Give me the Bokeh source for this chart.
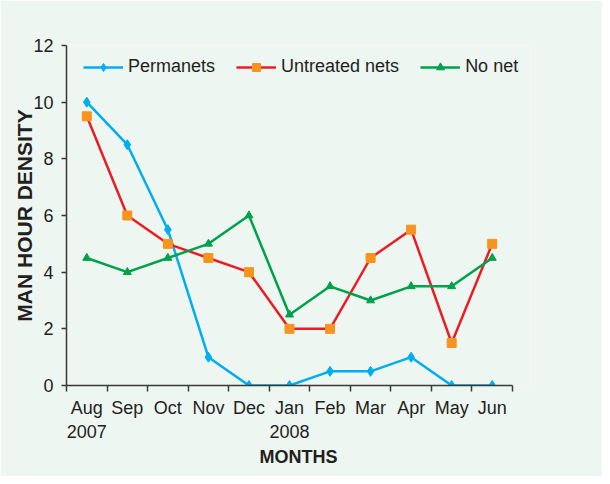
from bokeh.plotting import figure
from bokeh.models import Range1d, FixedTicker, Legend, LegendItem
from bokeh.embed import file_html
from bokeh.resources import INLINE

months = ["Aug\n2007", "Sep", "Oct", "Nov", "Dec", "Jan\n2008", "Feb", "Mar", "Apr", "May", "Jun"]
permanets = [10, 8.5, 5.5, 1, 0, 0, 0.5, 0.5, 1, 0, 0]
untreated = [9.5, 6, 5, 4.5, 4, 2, 2, 4.5, 5.5, 1.5, 5]
no_net = [4.5, 4, 4.5, 5, 6, 2.5, 3.5, 3, 3.5, 3.5, 4.5]
y_ticks = [0, 2, 4, 6, 8, 10, 12]

n = len(months)
xs = [i + 0.5 for i in range(n)]

BG = "#edf6f1"
TXT = "#231f20"
FONT = "Liberation Sans"

p = figure(width=602, height=476, output_backend="svg", toolbar_location=None,
           x_range=Range1d(0, n * 464 / 446), y_range=Range1d(0, 12),
           min_border_left=66, min_border_right=72, min_border_top=45, min_border_bottom=91,
           background_fill_color=BG, border_fill_color=BG)
p.outline_line_color = None
p.grid.visible = False

# x axis
xa = p.xaxis[0]
xa.bounds = (0, n)
xa.ticker = FixedTicker(ticks=xs, minor_ticks=list(range(n + 1)))
xa.major_label_overrides = {x: m for x, m in zip(xs, months)}
xa.major_tick_out = 0
xa.major_tick_in = 0
xa.minor_tick_out = 6
xa.minor_tick_in = 0
xa.minor_tick_line_color = "#3a3a3a"
xa.minor_tick_line_width = 1.5
xa.axis_line_color = "#3a3a3a"
xa.axis_line_width = 1.5
xa.major_label_text_font = FONT
xa.major_label_text_font_size = "18px"
xa.major_label_text_color = TXT
xa.major_label_standoff = 6
xa.axis_label = "MONTHS"
xa.axis_label_text_font = FONT
xa.axis_label_text_font_size = "18px"
xa.axis_label_text_font_style = "bold"
xa.axis_label_text_color = TXT
xa.axis_label_standoff = 2

# y axis
ya = p.yaxis[0]
ya.ticker = FixedTicker(ticks=y_ticks, minor_ticks=[])
ya.major_tick_out = 5
ya.major_tick_in = 0
ya.major_tick_line_color = "#3a3a3a"
ya.major_tick_line_width = 1.5
ya.axis_line_color = "#3a3a3a"
ya.axis_line_width = 1.5
ya.major_label_text_font = FONT
ya.major_label_text_font_size = "18px"
ya.major_label_text_color = TXT
ya.major_label_standoff = 8
ya.axis_label = "MAN HOUR DENSITY"
ya.axis_label_text_font = FONT
ya.axis_label_text_font_size = "21px"
ya.axis_label_text_font_style = "bold"
ya.axis_label_text_color = TXT
ya.axis_label_standoff = -6

BLUE = "#00aeef"
RED = "#ed1c24"
GREEN = "#00a14b"
ORANGE = "#f7941d"

l1 = p.line(xs, permanets, line_color=BLUE, line_width=2.5)
m1 = p.scatter(xs, permanets, marker="diamond", size=10, fill_color=BLUE, line_color=BLUE)
l2 = p.line(xs, untreated, line_color=RED, line_width=2.5)
m2 = p.scatter(xs, untreated, marker="square", size=9, fill_color=ORANGE, line_color=ORANGE)
l3 = p.line(xs, no_net, line_color=GREEN, line_width=2.5)
m3 = p.scatter(xs, no_net, marker="triangle", size=8, fill_color=GREEN, line_color=GREEN)

legend = Legend(items=[
    LegendItem(label="Permanets", renderers=[l1, m1]),
    LegendItem(label="Untreated nets", renderers=[l2, m2]),
    LegendItem(label="No net", renderers=[l3, m3]),
], orientation="horizontal", location=(17, 308))
legend.background_fill_alpha = 0
legend.border_line_color = None
legend.padding = 0
legend.margin = 0
legend.spacing = 21
legend.glyph_width = 40
legend.glyph_height = 20
legend.label_height = 20
legend.label_standoff = 5
legend.label_text_font = FONT
legend.label_text_font_size = "18px"
legend.label_text_color = TXT
p.add_layout(legend, "center")

open("out.html", "w").write(file_html(p, INLINE))
